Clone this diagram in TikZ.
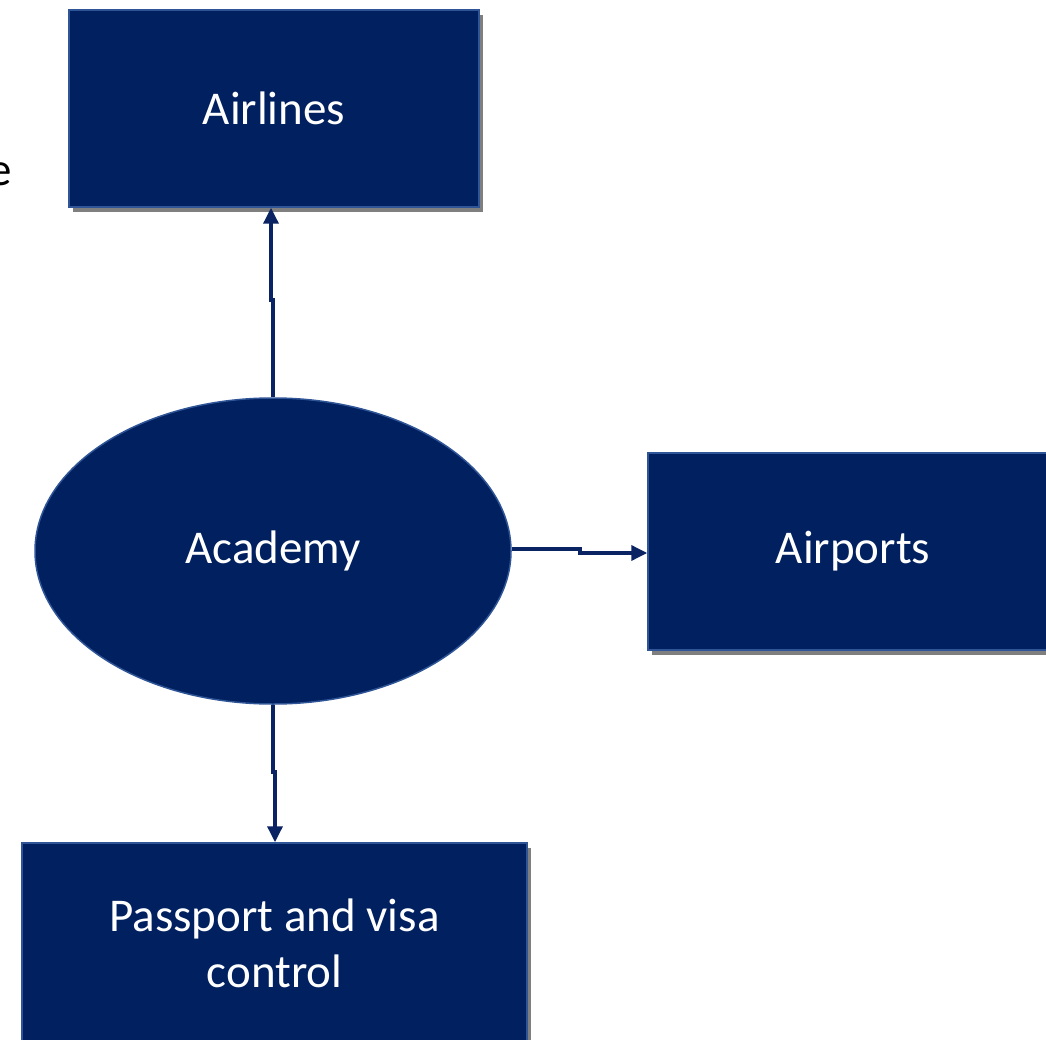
\documentclass[tikz,border=0pt]{standalone}
\usepackage{fontspec}
\setmainfont{Carlito}
\usetikzlibrary{shapes.geometric,arrows.meta,shadows}
\definecolor{navy}{HTML}{002060}
\definecolor{edgeblue}{HTML}{2F5597}
\definecolor{arrowblue}{HTML}{0A2463}
\tikzset{
  boxnode/.style={rectangle, fill=navy, draw=edgeblue, line width=1.5pt, inner sep=0pt,
    text=white, font=\fontsize{47}{56}\selectfont, align=center,
    drop shadow={shadow xshift=4pt, shadow yshift=-5pt, fill=black, opacity=0.5}},
  ellnode/.style={ellipse, fill=navy, draw=edgeblue, line width=1.5pt, inner sep=0pt,
    text=white, font=\fontsize{47}{56}\selectfont, minimum width=476pt, minimum height=306pt},
  conn/.style={draw=arrowblue, line width=3.5pt, -{Triangle[length=16pt,width=15pt]}}
}
\begin{document}
\begin{tikzpicture}[x=1pt,y=-1pt]
\useasboundingbox (0,0) rectangle (1046,1040);
\clip (0,0) rectangle (1046,1040);
\node[boxnode, minimum width=410pt, minimum height=197pt] (airlines) at (274,108.5) {Airlines};
\node[boxnode, minimum width=410pt, minimum height=197pt] (airports) at (853,551.5) {\raisebox{-4pt}{Airports}};
\node[boxnode, minimum width=505pt, minimum height=200pt] (passport) at (274.5,943) {Passport and visa\\control};
\node[ellnode] (academy) at (273,551) {\raisebox{-4pt}{Academy}};
\node[anchor=base east, inner sep=0pt, font=\fontsize{47}{56}\selectfont, text=black] (frag) at (12,186) {e};
\coordinate (j1a) at (273,300);
\coordinate (j1b) at (271,300);
\coordinate (j2a) at (580,549);
\coordinate (j2b) at (580,553);
\coordinate (j3a) at (273,772);
\coordinate (j3b) at (275,772);
\draw[conn] (academy.north) -- (j1a) -- (j1b) -- (j1b |- airlines.south);
\draw[conn] (academy.east |- j2a) -- (j2a) -- (j2b) -- (j2b -| airports.west);
\draw[conn] (academy.south) -- (j3a) -- (j3b) -- (j3b |- passport.north);
\end{tikzpicture}
\end{document}
